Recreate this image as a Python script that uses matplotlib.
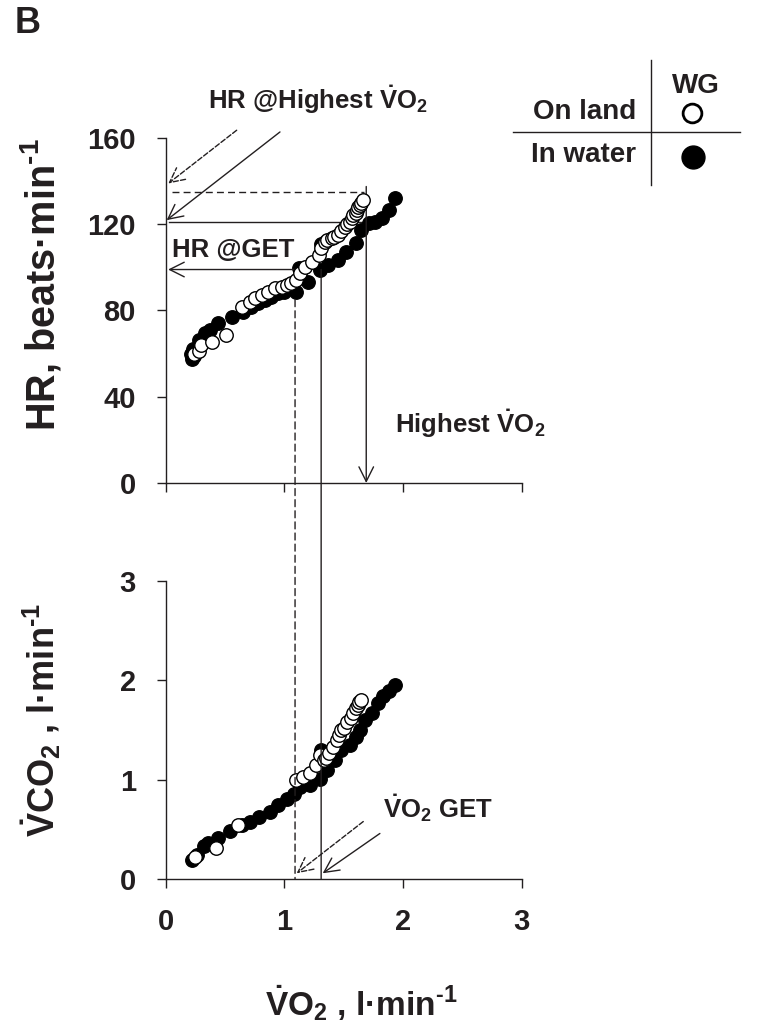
import matplotlib
matplotlib.use("Agg")
import matplotlib.pyplot as plt
from matplotlib.patches import ConnectionPatch
from matplotlib.lines import Line2D

# --------------------- fonts ---------------------
plt.rcParams['font.family'] = ['Liberation Sans', 'DejaVu Sans']
plt.rcParams['font.weight'] = 'bold'
plt.rcParams['mathtext.fontset'] = 'custom'
plt.rcParams['mathtext.rm'] = 'Liberation Sans:bold'
plt.rcParams['mathtext.bf'] = 'Liberation Sans:bold'
plt.rcParams['mathtext.it'] = 'Liberation Sans:bold'
plt.rcParams['mathtext.sf'] = 'Liberation Sans:bold'

INK = '#231f20'

# --------------------- data ---------------------
# HR vs VO2, on land (open circles)
land_vo2_hr = [0.24, 0.28, 0.30, 0.39, 0.51, 0.64, 0.71, 0.75, 0.81, 0.86, 0.92, 0.98,
               1.02, 1.06, 1.10, 1.13, 1.17, 1.23, 1.29, 1.31, 1.34, 1.36, 1.40, 1.42,
               1.45, 1.48, 1.51, 1.53, 1.55, 1.57, 1.58, 1.60, 1.61, 1.62, 1.64, 1.65, 1.66]
land_hr = [60, 61, 64, 65.5, 68.6, 81.7, 84.0, 85.6, 87.1, 88.7, 90.2, 91.0,
           91.8, 92.6, 94.1, 97.2, 100.3, 102.6, 105.7, 108.8, 111.8, 112.5, 113.4, 114.0,
           114.9, 117.0, 118.8, 120.0, 121.1, 123.0, 124.2, 125.0, 126.5, 128.0, 128.9, 130.0, 131.2]

# HR vs VO2, in water (filled circles)
water_vo2_hr = [0.21, 0.22, 0.24, 0.23, 0.26, 0.28, 0.33, 0.37, 0.44, 0.56, 0.65, 0.72,
                0.78, 0.84, 0.89, 0.95, 1.00, 1.06, 1.10, 1.12, 1.20, 1.30, 1.31, 1.37,
                1.45, 1.52, 1.60, 1.65, 1.71, 1.76, 1.82, 1.88, 1.93]
water_hr = [60, 57.5, 59, 62, 61, 66.3, 69.4, 70.9, 74.0, 77.1, 79.4, 81.7,
            83.3, 84.8, 86.3, 87.9, 88.7, 90.2, 88.7, 99.5, 93.3, 98.7, 111.0, 101.0,
            103.4, 107.2, 111.1, 117.3, 120.4, 121.1, 122.7, 126.5, 132.0]

# VCO2 vs VO2, on land
land_vo2_co2 = [0.25, 0.42, 0.61, 1.10, 1.16, 1.22, 1.27, 1.30, 1.33, 1.35, 1.38, 1.41,
                1.44, 1.46, 1.48, 1.50, 1.53, 1.56, 1.58, 1.60, 1.62, 1.63, 1.65]
land_co2 = [0.22, 0.31, 0.55, 1.00, 1.03, 1.07, 1.15, 1.25, 1.20, 1.22, 1.27, 1.33,
            1.40, 1.45, 1.50, 1.52, 1.58, 1.62, 1.67, 1.72, 1.75, 1.78, 1.80]

# VCO2 vs VO2, in water
water_vo2_co2 = [0.22, 0.26, 0.32, 0.36, 0.44, 0.54, 0.64, 0.71, 0.79, 0.88, 0.95, 1.02,
                 1.08, 1.13, 1.22, 1.30, 1.31, 1.36, 1.43, 1.48, 1.55, 1.60, 1.64, 1.68,
                 1.74, 1.79, 1.83, 1.88, 1.93]
water_co2 = [0.19, 0.24, 0.33, 0.36, 0.41, 0.48, 0.55, 0.58, 0.63, 0.68, 0.75, 0.81,
             0.86, 0.93, 0.95, 1.01, 1.30, 1.10, 1.20, 1.30, 1.35, 1.43, 1.50, 1.60,
             1.67, 1.77, 1.84, 1.89, 1.95]

# reference lines
vo2_get_land = 1.09
vo2_get_water = 1.31
vo2_highest = 1.69
hr_get_top_land = 85
hr_get = 99
hr_highest_water = 121
hr_highest_land = 135

hr_ticks = [0, 40, 80, 120, 160]
co2_ticks = [0, 1, 2, 3]
vo2_ticks = [0, 1, 2, 3]

# --------------------- figure ---------------------
fig = plt.figure(figsize=(7.74, 10.36), dpi=100)
ax1 = fig.add_axes([0.2141, 0.5338, 0.4599, 0.3330])
ax2 = fig.add_axes([0.2141, 0.1513, 0.4599, 0.2882])


def style(ax):
    for s in ['top', 'right']:
        ax.spines[s].set_visible(False)
    for s in ['left', 'bottom']:
        ax.spines[s].set_color(INK)
        ax.spines[s].set_linewidth(1.0)
    ax.tick_params(direction='out', length=6.5, width=1.0, color=INK,
                   labelsize=21, labelcolor=INK)
    ax.tick_params(axis='y', pad=15)
    ax.tick_params(axis='x', pad=14)
    ax.set_xlim(0, 3)
    ax.set_xticks(vo2_ticks)
    ax.patch.set_alpha(0)


style(ax1)
style(ax2)
ax1.set_ylim(0, 160)
ax1.set_yticks(hr_ticks)
ax1.set_xticklabels([])
ax2.set_ylim(0, 3)
ax2.set_yticks(co2_ticks)

mk = dict(marker='o', linestyle='none', markersize=9.7)
ax1.plot(water_vo2_hr, water_hr, color='black', markeredgecolor='black', **mk, zorder=3)
ax1.plot(land_vo2_hr, land_hr, markerfacecolor='white', markeredgecolor='black',
         markeredgewidth=1.0, **mk, zorder=4)
ax2.plot(water_vo2_co2, water_co2, color='black', markeredgecolor='black', **mk, zorder=3)
ax2.plot(land_vo2_co2, land_co2, markerfacecolor='white', markeredgecolor='black',
         markeredgewidth=1.0, **mk, zorder=4)

# --------------------- reference lines / arrows ---------------------
LW = 1.0
DASH = (0, (5, 3))
head = '->,head_length=0.7,head_width=0.35'

ax1.plot([0.03, vo2_highest], [hr_highest_water] * 2, color=INK, lw=LW, zorder=2)
ax1.plot([0.05, vo2_highest - 0.02], [hr_highest_land] * 2, color=INK, lw=LW,
         linestyle=DASH, zorder=2)

ax1.annotate('', xy=(vo2_highest, 0), xytext=(vo2_highest, 137.5),
             arrowprops=dict(arrowstyle=head, lw=LW, color=INK, shrinkA=0, shrinkB=0,
                             mutation_scale=15))
ax1.annotate('', xy=(0.02, hr_get), xytext=(1.11, hr_get),
             arrowprops=dict(arrowstyle=head, lw=LW, color=INK, shrinkA=0, shrinkB=0,
                             mutation_scale=15))
ax1.annotate('', xy=(0.008, 121.9), xytext=(0.963, 162.8),
             arrowprops=dict(arrowstyle=head, lw=LW, color=INK, shrinkA=0, shrinkB=0,
                             mutation_scale=15))
ax1.annotate('', xy=(0.022, 138.9), xytext=(0.598, 163.6),
             arrowprops=dict(arrowstyle=head, lw=LW, color=INK, shrinkA=0, shrinkB=0,
                             mutation_scale=15, linestyle='--'))

con1 = ConnectionPatch(xyA=(vo2_get_land, hr_get_top_land), coordsA=ax1.transData,
                       xyB=(vo2_get_land, 0), coordsB=ax2.transData,
                       color=INK, lw=LW, linestyle=DASH)
con2 = ConnectionPatch(xyA=(vo2_get_water, hr_get), coordsA=ax1.transData,
                       xyB=(vo2_get_water, 0), coordsB=ax2.transData,
                       color=INK, lw=LW)
fig.add_artist(con1)
fig.add_artist(con2)

ax2.annotate('', xy=(1.323, 0.06), xytext=(1.805, 0.46),
             arrowprops=dict(arrowstyle=head, lw=LW, color=INK, shrinkA=0, shrinkB=0,
                             mutation_scale=15))
ax2.annotate('', xy=(1.104, 0.06), xytext=(1.665, 0.58),
             arrowprops=dict(arrowstyle=head, lw=LW, color=INK, shrinkA=0, shrinkB=0,
                             mutation_scale=15, linestyle='--'))

# --------------------- texts ---------------------
TS = 18.5
ax1.text(1.279, 173.5, r'HR @Highest $\dot{V}$O$_2$', fontsize=TS, color=INK,
         ha='center', va='baseline', clip_on=False)
ax1.text(0.05, 104.9, 'HR @GET', fontsize=TS, color=INK, ha='left', va='baseline')
ax1.text(1.932, 23.0, r'Highest $\dot{V}$O$_2$', fontsize=TS, color=INK,
         ha='left', va='baseline', clip_on=False)
ax2.text(1.83, 0.613, r'$\dot{V}$O$_2$ GET', fontsize=TS, color=INK,
         ha='left', va='baseline')

fig.text(41 / 774, 1 - 285 / 1036, r'HR, beats·min$^{\text{-}1}$', rotation=90,
         fontsize=28.5, color=INK, ha='center', va='center')
fig.text(41 / 774, 1 - 720 / 1036, r'$\dot{V}$CO$_2$ , l·min$^{\text{-}1}$', rotation=90,
         fontsize=26, color=INK, ha='center', va='center')
fig.text(361 / 774, 1 - 1003 / 1036, r'$\dot{V}$O$_2$ , l·min$^{\text{-}1}$',
         fontsize=24, color=INK, ha='center', va='center')
fig.text(15 / 774, 1 - 6 / 1036, 'B', fontsize=26, color=INK, ha='left', va='top')

# --------------------- legend table ---------------------
fig.add_artist(Line2D([513 / 774, 740 / 774], [1 - 131.5 / 1036] * 2, color=INK, lw=1.0))
fig.add_artist(Line2D([651 / 774, 651 / 774], [1 - 60 / 1036, 1 - 185 / 1036],
                      color=INK, lw=1.0))
fig.text(696 / 774, 1 - 86 / 1036, 'WG', fontsize=20, color=INK, ha='center', va='center')
fig.text(636 / 774, 1 - 112 / 1036, 'On land', fontsize=20, color=INK,
         ha='right', va='center')
fig.text(636 / 774, 1 - 155 / 1036, 'In water', fontsize=20, color=INK,
         ha='right', va='center')
fig.add_artist(Line2D([692 / 774], [1 - 113 / 1036], marker='o', markersize=13.5,
                      markerfacecolor='white', markeredgecolor='black',
                      markeredgewidth=2.0, linestyle='none'))
fig.add_artist(Line2D([693 / 774], [1 - 156.5 / 1036], marker='o', markersize=16.5,
                      color='black', linestyle='none'))

fig.savefig('out.png', dpi=100)
